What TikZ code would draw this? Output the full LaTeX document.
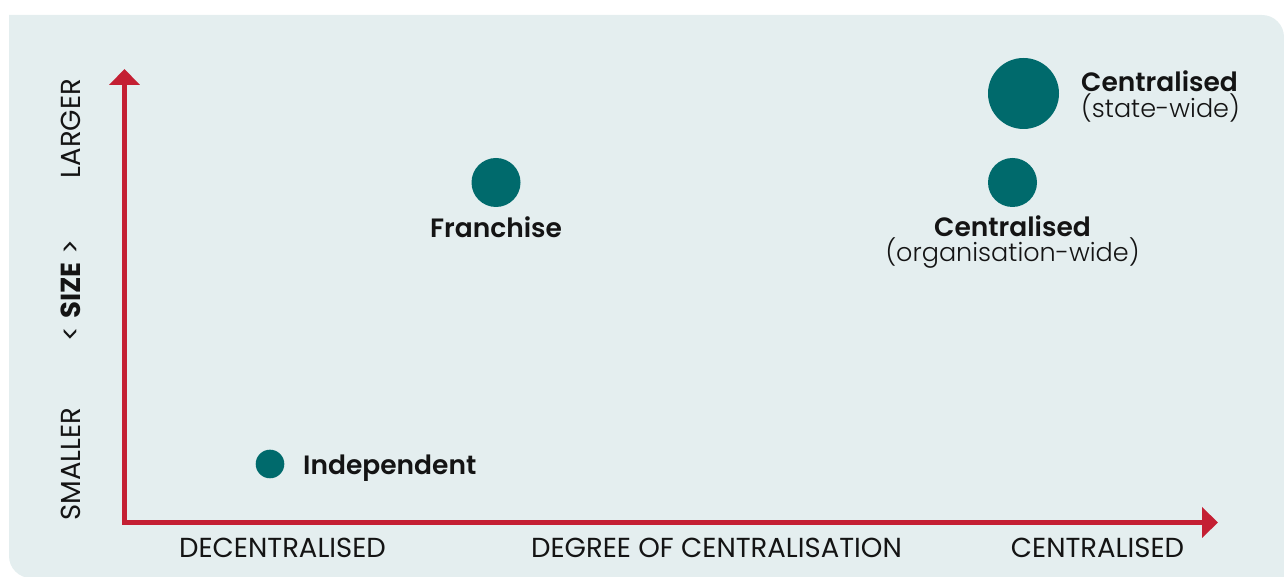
\documentclass[tikz,border=0pt]{standalone}
\usepackage{fontspec}
\setmainfont{Poppins}[BoldFont={Poppins SemiBold}]
\newfontfamily\lightfont{Poppins Light}
\newfontfamily\heavyfont{Poppins Bold}
\usetikzlibrary{arrows.meta}
\definecolor{bgc}{HTML}{E4EEEF}
\definecolor{axisred}{HTML}{C41F33}
\definecolor{teal}{HTML}{006A6C}
\definecolor{ink}{HTML}{141414}
\begin{document}
\begin{tikzpicture}[x=1bp,y=1bp,
  dot/.style={circle,fill=teal,inner sep=0pt,minimum size=#1},
  axislbl/.style={text=ink,inner sep=0pt,font=\fontsize{27.5bp}{30bp}\selectfont},
  boldlbl/.style={text=ink,inner sep=0pt,font=\fontsize{26.5bp}{30bp}\selectfont\bfseries},
  sublbl/.style={text=ink,inner sep=0pt,font=\fontsize{25.5bp}{30bp}\selectfont\lightfont},
  axisline/.style={draw=axisred,line width=5bp,line join=miter,
    arrows={Triangle[width=30bp,length=16bp]-Triangle[width=30bp,length=16bp]}}]
\useasboundingbox (0,0) rectangle (1284,577);
% background panel
\fill[bgc] (9,562) -- (1262,562) arc[start angle=90,end angle=0,radius=22] -- (1284,-1)
  -- (31,-1) arc[start angle=270,end angle=180,radius=22] -- cycle;
% axes
\coordinate (ytip) at (124.5,508);
\coordinate (orig) at (124.5,54.5);
\coordinate (xtip) at (1218,54.5);
\draw[axisline] (ytip) -- (orig) -- (xtip);
% dots
\node[dot=28.6bp] (indep) at (270,113) {};
\node[dot=49bp] (fran) at (496,394.5) {};
\node[dot=49bp] (corg) at (1012.5,394.5) {};
\node[dot=71bp] (cstate) at (1023.5,483.5) {};
% labels
\node[boldlbl,anchor=base west] (lindep) at (303,102) {Independent};
\node[boldlbl,anchor=base] (lfran) at (496,339) {Franchise};
\node[boldlbl,anchor=base] (lcorg) at (1012.5,340) {Centralised};
\node[sublbl,anchor=base] (lcorg2) at (1012.5,315) {(organisation-wide)};
\node[boldlbl,anchor=base west] (lcstate) at (1081,485) {Centralised};
\node[sublbl,anchor=base west] (lcstate2) at (1081,459) {(state-wide)};
% axis labels
\node[axislbl,anchor=base] (xl1) at (282.5,19) {DECENTRALISED};
\node[axislbl,anchor=base] (xl2) at (716.5,19) {DEGREE OF CENTRALISATION};
\node[axislbl,anchor=base] (xl3) at (1097.5,19) {CENTRALISED};
\node[axislbl,anchor=base,rotate=90] (yl1) at (80,448.5) {LARGER};
\node[axislbl,anchor=base,rotate=90] (yl2) at (80,286.5) {< {\heavyfont SIZE} >};
\node[axislbl,anchor=base,rotate=90] (yl3) at (80,113) {SMALLER};
\end{tikzpicture}
\end{document}
